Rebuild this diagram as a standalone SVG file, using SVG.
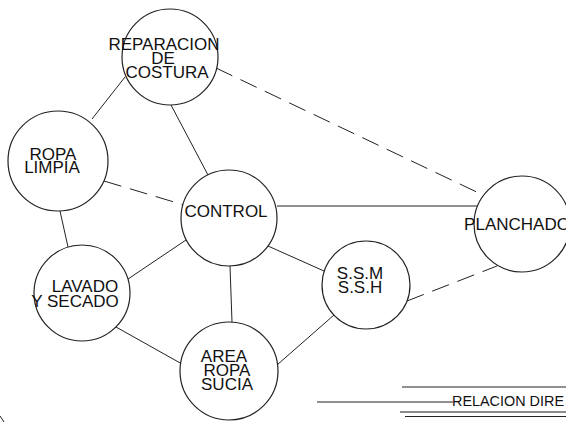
<svg xmlns="http://www.w3.org/2000/svg" width="566" height="422" viewBox="0 0 566 422">
<style>
.n{fill:#fff;stroke:#222;stroke-width:1.2}
.t{font-family:"Liberation Sans",Arial,sans-serif;font-size:17px;fill:#111;text-anchor:middle}
.e{stroke:#222;stroke-width:1;fill:none}
.d{stroke-dasharray:18 9}
</style>
<rect width="566" height="422" fill="#fff"/>
<g id="connectors">
<line class="e" x1="125" y1="77" x2="92" y2="119"/>
<line class="e" x1="171" y1="105" x2="208" y2="175"/>
<line class="e d" x1="216" y1="68" x2="483" y2="195"/>
<line class="e d" x1="104" y1="181" x2="184" y2="205"/>
<line class="e" x1="60" y1="211" x2="68" y2="247"/>
<line class="e" x1="277" y1="206" x2="477" y2="206"/>
<line class="e" x1="186" y1="240" x2="128" y2="279"/>
<line class="e" x1="230" y1="266" x2="232" y2="322"/>
<line class="e" x1="268" y1="246" x2="324" y2="271"/>
<line class="e" x1="116" y1="327" x2="182" y2="364"/>
<line class="e" x1="277" y1="365" x2="334" y2="315"/>
<line class="e d" x1="407" y1="301" x2="497" y2="266"/>
</g>
<g id="reparacion">
<circle class="n" cx="170" cy="57" r="48"/>
<text class="t" x="164" y="50">REPARACION</text>
<text class="t" x="163" y="64">DE</text>
<text class="t" x="167" y="78">COSTURA</text>
</g>
<g id="ropa-limpia">
<circle class="n" cx="58" cy="161" r="50"/>
<text class="t" x="53" y="160">ROPA</text>
<text class="t" x="52" y="173">LIMPIA</text>
</g>
<g id="control">
<circle class="n" cx="229" cy="218" r="48"/>
<text class="t" x="226" y="217">CONTROL</text>
</g>
<g id="planchado">
<circle class="n" cx="522" cy="224" r="48"/>
<text class="t" x="517" y="230">PLANCHADO</text>
</g>
<g id="ssm">
<circle class="n" cx="366" cy="285" r="44"/>
<text class="t" x="360" y="279">S.S.M</text>
<text class="t" x="360" y="293">S.S.H</text>
</g>
<g id="lavado">
<circle class="n" cx="82" cy="293" r="48"/>
<text class="t" x="85" y="292">LAVADO</text>
<text class="t" x="75" y="307">Y SECADO</text>
</g>
<g id="area">
<circle class="n" cx="229" cy="371" r="49"/>
<text class="t" x="224" y="362">AREA</text>
<text class="t" x="227" y="376">ROPA</text>
<text class="t" x="227" y="390">SUCIA</text>
</g>
<g id="legend">
<line class="e" x1="402" y1="387" x2="566" y2="387"/>
<line class="e" x1="317" y1="402" x2="453" y2="402"/>
<line x1="400" y1="412" x2="566" y2="412" stroke="#666" stroke-width="1.5"/>
<line class="e" x1="405" y1="416.5" x2="566" y2="416.5"/>
<text x="452" y="406" font-family="Liberation Sans, Arial, sans-serif" font-size="15" fill="#111" textLength="112" lengthAdjust="spacingAndGlyphs">RELACION DIRE</text>
<line class="e" x1="0" y1="416" x2="4" y2="422"/>
</g>
</svg>
